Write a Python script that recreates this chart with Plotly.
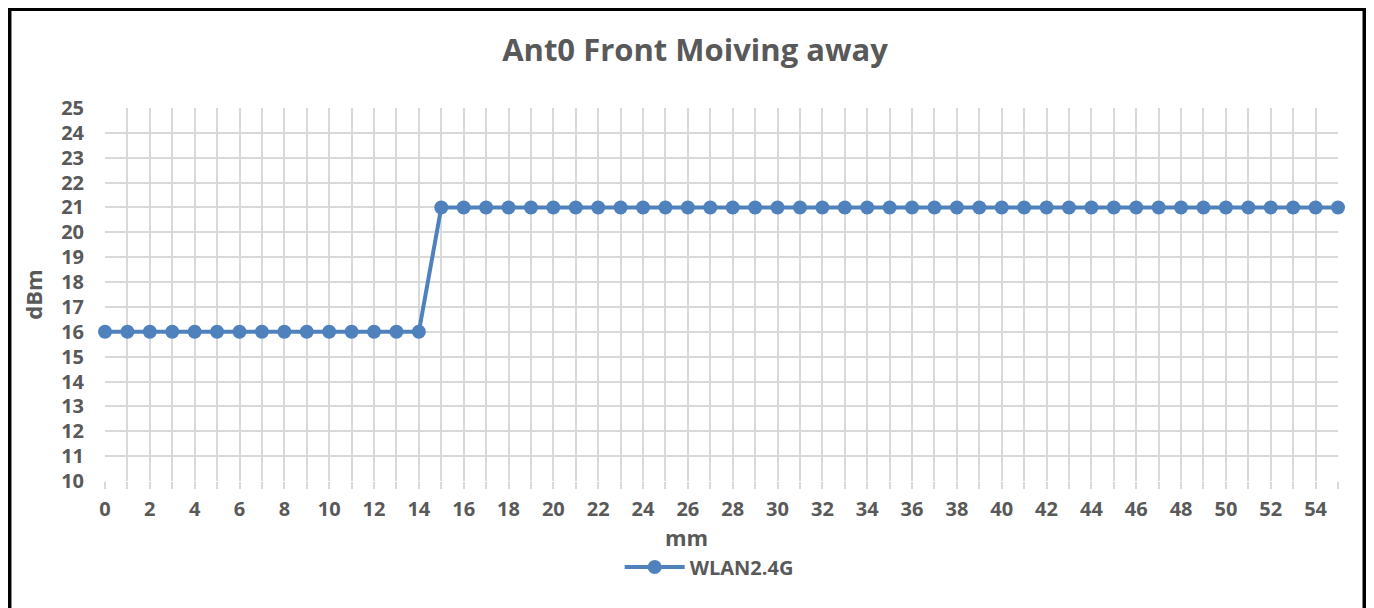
import plotly.graph_objects as go

# distance (mm) and measured power (dBm)
mm = list(range(0, 56))
dbm = [16] * 15 + [21] * 41

x_ticks = list(range(0, 56))
x_labels = [str(v) if v % 2 == 0 else "" for v in x_ticks]
y_ticks = list(range(10, 26))

label_color = "#595959"
grid_color = "#D9D9D9"
font_name = "Open Sans"

fig = go.Figure()
fig.add_trace(go.Scatter(
    x=mm, y=dbm,
    mode="lines+markers",
    name="WLAN2.4G",
    line=dict(color="#4F81BD", width=4),
    marker=dict(color="#4F81BD", size=14),
    cliponaxis=False,
))

fig.update_layout(
    width=1374, height=608,
    paper_bgcolor="white", plot_bgcolor="white",
    margin=dict(l=97, r=44, t=100, b=135),
    title=dict(text="<b>Ant0 Front Moiving away</b>", x=0.5, xanchor="center",
               y=0.931, yanchor="middle",
               font=dict(family=font_name, size=31, color=label_color)),
    font=dict(family=font_name, color=label_color),
    showlegend=True,
    legend=dict(orientation="h", x=0.49, xanchor="center", y=-0.2306, yanchor="middle",
                font=dict(family=font_name, size=20, color=label_color, weight="bold"),
                itemwidth=60),
)

fig.update_xaxes(
    range=[0, 55], tickvals=x_ticks, ticktext=x_labels,
    showgrid=True, gridcolor=grid_color, gridwidth=1.5,
    zeroline=False, showline=False,
    ticks="outside", ticklen=7, tickcolor=grid_color, tickwidth=1.5,
    ticklabelstandoff=3,
    tickfont=dict(family=font_name, size=20, color=label_color, weight="bold"),
)
fig.update_yaxes(
    range=[10, 25], tickvals=y_ticks,
    showgrid=True, gridcolor=grid_color, gridwidth=1.5,
    zeroline=False, showline=False,
    ticks="", ticklabelstandoff=20,
    tickfont=dict(family=font_name, size=20, color=label_color, weight="bold"),
    title=dict(text="<b>dBm</b>", standoff=12, font=dict(family=font_name, size=22, color=label_color)),
)

# x axis title placed by hand, sits tight under the tick labels
fig.add_annotation(text="<b>mm</b>", xref="paper", yref="paper", x=0.472, y=-0.149,
                   xanchor="center", yanchor="middle", showarrow=False,
                   font=dict(family=font_name, size=22, color=label_color))

# black frame around the chart
fig.add_shape(type="rect", xref="paper", yref="paper",
              x0=-0.0775, x1=1.0215, y0=-0.5, y1=1.2654,
              line=dict(color="black", width=4), layer="above")

fig.write_html("out.html")
